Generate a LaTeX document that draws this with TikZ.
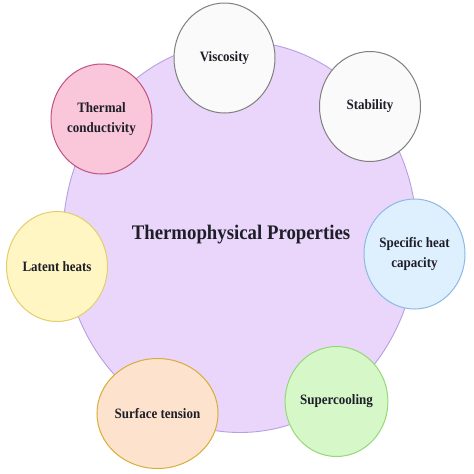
\documentclass[tikz,border=0pt]{standalone}
\usepackage{fontspec}
\setmainfont{Liberation Serif}
\usetikzlibrary{shapes.geometric}
\definecolor{bigfill}{RGB}{233,214,250}
\definecolor{bigline}{RGB}{183,160,226}
\definecolor{whfill}{RGB}{250,250,250}
\definecolor{whline}{RGB}{128,128,128}
\definecolor{pkfill}{RGB}{249,198,218}
\definecolor{pkline}{RGB}{194,82,128}
\definecolor{blfill}{RGB}{222,240,253}
\definecolor{blline}{RGB}{142,184,230}
\definecolor{yefill}{RGB}{255,246,196}
\definecolor{yeline}{RGB}{227,206,107}
\definecolor{orfill}{RGB}{253,227,206}
\definecolor{orline}{RGB}{215,174,56}
\definecolor{grfill}{RGB}{214,248,201}
\definecolor{grline}{RGB}{148,216,119}
\definecolor{txt}{RGB}{30,30,40}
\newcommand{\tallTxt}[1]{\scalebox{1}[1.1]{#1}}
\begin{document}
\begin{tikzpicture}[x=1pt,y=1pt,
  prop/.style={ellipse, draw, line width=1pt, minimum width=101pt, minimum height=110pt,
    inner sep=0pt, align=center, text=txt,
    font=\fontsize{13}{19.5}\selectfont\bfseries},
  hub/.style={ellipse, draw=bigline, fill=bigfill, line width=0.9pt,
    minimum width=354pt, minimum height=391pt, inner sep=0pt}]
\useasboundingbox[fill=white] (0,0) rectangle (474,-474);
\node[hub] (hub) at (240,-237) {};
\node[text=txt, font=\fontsize{18.8}{22}\selectfont\bfseries] (title) at (241,-235) {\tallTxt{Thermophysical Properties}};
\node[prop, draw=whline, fill=whfill] (visc) at (224.5,-58) {\tallTxt{Viscosity}};
\node[prop, draw=whline, fill=whfill] (stab) at (370,-106.5) {\tallTxt{Stability}};
\node[prop, draw=pkline, fill=pkfill] (therm) at (101.5,-119) {\tallTxt{Thermal}\\\tallTxt{conductivity}};
\node[prop, draw=blline, fill=blfill] (spec) at (414.5,-254) {\tallTxt{Specific heat}\\\tallTxt{capacity}};
\node[prop, draw=yeline, fill=yefill] (lat) at (57,-266.5) {\tallTxt{Latent heats}};
\node[prop, draw=orline, fill=orfill] (surf) at (157.5,-413.5) {\tallTxt{Surface tension}};
\node[prop, draw=grline, fill=grfill] (super) at (336.5,-401.5) {\tallTxt{Supercooling}};
\end{tikzpicture}
\end{document}
